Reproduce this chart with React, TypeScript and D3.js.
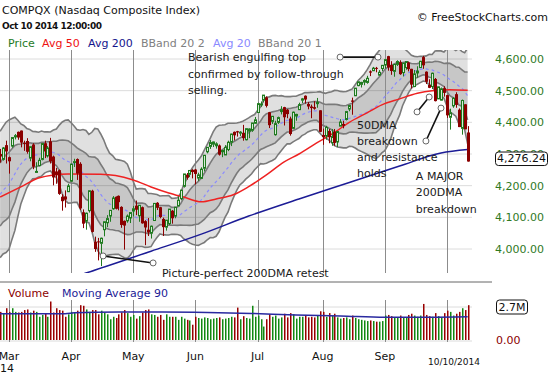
import React from 'react';
import * as d3 from 'd3';

// ---------- DATA ----------
const dates = [
  '02-26','02-27','02-28',
  '03-03','03-04','03-05','03-06','03-07','03-10','03-11','03-12','03-13','03-14','03-17','03-18','03-19','03-20','03-21','03-24','03-25','03-26','03-27','03-28','03-31',
  '04-01','04-02','04-03','04-04','04-07','04-08','04-09','04-10','04-11','04-14','04-15','04-16','04-17','04-21','04-22','04-23','04-24','04-25','04-28','04-29','04-30',
  '05-01','05-02','05-05','05-06','05-07','05-08','05-09','05-12','05-13','05-14','05-15','05-16','05-19','05-20','05-21','05-22','05-23','05-27','05-28','05-29','05-30',
  '06-02','06-03','06-04','06-05','06-06','06-09','06-10','06-11','06-12','06-13','06-16','06-17','06-18','06-19','06-20','06-23','06-24','06-25','06-26','06-27','06-30',
  '07-01','07-02','07-03','07-07','07-08','07-09','07-10','07-11','07-14','07-15','07-16','07-17','07-18','07-21','07-22','07-23','07-24','07-25','07-28','07-29','07-30','07-31',
  '08-01','08-04','08-05','08-06','08-07','08-08','08-11','08-12','08-13','08-14','08-15','08-18','08-19','08-20','08-21','08-22','08-25','08-26','08-27','08-28','08-29',
  '09-02','09-03','09-04','09-05','09-08','09-09','09-10','09-11','09-12','09-15','09-16','09-17','09-18','09-19','09-22','09-23','09-24','09-25','09-26','09-29','09-30',
  '10-01','10-02','10-03','10-06','10-07','10-08','10-09','10-10',
];

const opens = [
  4300,4283,4328,
  4290,4325,4354,4370,4374,4335,4341,4287,4330,4244,4263,4283,4334,4294,4340,4292,4245,4249,4165,4166,4181,
  4214,4275,4284,4269,4116,4088,4121,4184,4023,4024,4018,4061,4083,4104,4127,4165,4168,4133,4089,4089,4098,
  4120,4137,4105,4132,4088,4061,4050,4090,4146,4132,4095,4069,4080,4121,4104,4136,4159,4198,4235,4236,4250,
  4251,4224,4223,4255,4307,4324,4331,4326,4327,4307,4297,4314,4337,4370,4372,4369,4367,4345,4372,4375,4397,
  4431,4456,4470,4479,4432,4403,4361,4400,4434,4448,4440,4412,4381,4420,4440,4470,4484,4458,4450,4448,4459,4438,
  4360,4357,4373,4336,4370,4338,4388,4395,4409,4442,4469,4484,4516,4520,4527,4526,4561,4563,4572,4549,4570,
  4581,4609,4581,4561,4583,4590,4557,4573,4589,4569,4513,4556,4573,4606,4560,4518,4513,4537,4474,4470,4508,
  4486,4416,4452,4489,4440,4381,4457,4368,
];
const highs = [
  4316,4322,4342,
  4292,4352,4363,4371,4374,4342,4350,4324,4334,4274,4288,4333,4342,4325,4351,4295,4256,4251,4173,4185,4206,
  4269,4285,4286,4274,4125,4115,4183,4187,4039,4035,4036,4087,4107,4121,4167,4166,4169,4135,4090,4109,4115,
  4136,4153,4139,4134,4091,4098,4074,4144,4148,4133,4099,4091,4126,4123,4132,4166,4186,4237,4240,4249,4252,
  4253,4241,4258,4297,4321,4344,4339,4337,4330,4313,4328,4342,4364,4371,4373,4372,4392,4381,4381,4398,4417,
  4462,4466,4486,4482,4433,4419,4405,4418,4451,4449,4442,4418,4434,4427,4462,4477,4485,4464,4456,4467,4477,4438,
  4380,4389,4379,4379,4379,4371,4410,4405,4436,4454,4478,4508,4528,4528,4536,4547,4564,4575,4575,4565,4580,
  4599,4610,4593,4583,4596,4596,4587,4592,4592,4569,4565,4577,4594,4610,4561,4536,4557,4540,4513,4510,4514,
  4487,4443,4479,4495,4444,4472,4457,4388,
];
const lows = [
  4273,4279,4270,
  4238,4320,4346,4345,4321,4310,4301,4277,4252,4243,4261,4280,4287,4289,4270,4201,4206,4171,4121,4131,4180,
  4212,4259,4218,4123,4066,4061,4115,4052,3991,3964,3946,4040,4069,4086,4124,4125,4122,4067,3998,4083,4082,
  4103,4107,4086,4080,4012,4041,4033,4089,4123,4097,4041,4058,4076,4080,4097,4136,4154,4194,4219,4227,4223,
  4204,4215,4221,4245,4302,4316,4322,4317,4295,4290,4297,4309,4325,4343,4355,4357,4342,4343,4350,4370,4395,
  4431,4449,4463,4447,4382,4395,4358,4395,4425,4390,4413,4358,4380,4405,4440,4461,4459,4441,4413,4440,4446,4369,
  4329,4345,4334,4326,4326,4322,4388,4381,4406,4435,4424,4483,4514,4510,4517,4522,4546,4562,4558,4547,4562,
  4570,4563,4550,4544,4578,4550,4545,4566,4561,4507,4511,4541,4572,4569,4521,4508,4505,4466,4474,4469,4481,
  4414,4377,4446,4446,4385,4361,4378,4276,
];
const closes = [
  4292,4319,4308,
  4277,4352,4358,4352,4336,4334,4307,4323,4260,4245,4280,4333,4308,4319,4277,4226,4234,4174,4151,4156,4199,
  4268,4276,4238,4128,4080,4113,4184,4054,4000,4023,4034,4086,4096,4122,4161,4127,4148,4076,4074,4104,4115,
  4127,4124,4138,4081,4068,4052,4072,4144,4130,4101,4069,4091,4126,4097,4132,4154,4186,4237,4225,4248,4243,
  4237,4234,4252,4296,4321,4336,4338,4332,4298,4311,4321,4337,4363,4359,4368,4369,4350,4380,4379,4398,4408,
  4459,4458,4486,4452,4391,4419,4396,4415,4440,4416,4426,4363,4432,4425,4456,4474,4472,4450,4445,4443,4463,4370,
  4353,4384,4353,4355,4335,4371,4401,4389,4434,4453,4465,4508,4528,4526,4532,4539,4557,4571,4570,4558,4580,
  4598,4573,4562,4583,4592,4552,4587,4592,4568,4519,4553,4562,4593,4580,4528,4509,4555,4467,4512,4506,4493,
  4422,4430,4476,4455,4385,4469,4378,4276.24,
];
// closes of the 19 sessions before the first candle (for the 20-day bands)
const priorCloses = [4051,4123,4104,3997,4032,4012,4057,4126,4148,4191,4201,4241,4244,4273,4238,4268,4263,4292,4288];

// volume (millions, as labelled on the chart)
const volumes = [
  2.3,2.2,2.6,
  2.3,2.6,2.3,2.25,2.3,2.45,2.5,2.25,2.4,2.3,1.9,2.05,2.2,1.9,3.15,2.25,2.6,2.45,2.4,1.9,2.1,
  2.3,2.25,2.4,2.85,2.8,2.5,2.3,2.45,2.45,2.1,2.4,2.25,2.1,1.7,1.9,1.8,2.1,2.25,2.45,2.2,1.9,
  2.05,1.75,1.95,2.25,2.45,2.5,2.1,2.05,1.9,2.05,1.65,2.1,1.9,1.9,1.9,1.65,1.9,1.75,1.65,1.6,1.25,
  1.9,1.8,1.75,1.85,1.8,1.7,1.75,1.8,1.85,1.7,1.75,1.8,1.9,1.85,2.65,1.7,1.95,1.8,1.75,2.8,1.9,
  2.0,1.7,1.1,1.7,2.1,1.9,2.0,1.75,1.85,2.15,1.85,2.2,2.1,1.75,1.9,1.9,2.05,1.85,1.9,1.85,2.0,2.35,
  2.3,1.9,2.2,2.0,2.15,1.85,1.75,1.8,1.85,1.7,2.0,1.8,1.7,1.65,1.6,1.55,1.6,1.55,1.5,1.5,1.55,
  2.0,2.05,1.95,1.8,1.85,2.0,1.8,1.85,2.05,2.15,2.0,1.9,2.0,2.95,2.05,1.95,1.9,2.2,1.95,1.85,2.2,
  2.4,2.3,2.0,2.15,2.3,2.6,2.45,2.85,
];

// moving averages (session index -> value)
const avg50Idx = [0, 7, 13, 18, 23, 34, 39, 45, 51, 57, 62, 68, 73, 79, 84, 90, 96, 101, 107, 113, 118, 124, 129, 135, 141, 146, 152, 158];
const avg50Val = [4164, 4196, 4224, 4234, 4237, 4236, 4232, 4218, 4196, 4177, 4164, 4149, 4158, 4172, 4197, 4234, 4275, 4300, 4335, 4368, 4400, 4430, 4455, 4474, 4492, 4500, 4503, 4501];
const avg200Idx = [25, 29, 51, 68, 84, 101, 118, 135, 149, 158];
const avg200Val = [3912, 3924, 3993, 4047, 4104, 4158, 4210, 4262, 4303, 4314];
const volAvgIdx = [0, 22, 25, 40, 55, 70, 85, 100, 115, 130, 145, 158];
const volAvgVal = [2.15, 2.15, 2.22, 2.3, 2.3, 2.26, 2.17, 2.05, 1.97, 1.86, 1.86, 1.9];

const priceTicks = [4000, 4100, 4200, 4300, 4400, 4500, 4600];
const volTickTop = 2.7;
const title = 'COMPQX (Nasdaq Composite Index)';
const stamp = 'Oct 10 2014 12:00:00';
const legendItems = ['Price', 'Avg 50', 'Avg 200', 'BBand 20 2', 'Avg 20', 'BBand 20 1'];
const lastDateLabel = '10/10/2014';
const yearLabel = '14';

const FONT = '"DejaVu Sans", Verdana, sans-serif';
const UP = '#1f7a1f';
const DOWN = '#8b0000';

export default function App() {
  const n = closes.length;
  const x = d3.scaleLinear().domain([0, n - 1]).range([0.12, 0.12 + 2.959 * (n - 1)]);
  const y = d3.scaleLinear().domain([4000, 4600]).range([249, 59]);
  const vy = d3.scaleLinear().domain([0, volTickTop]).range([340, 307]);
  const plot = { l: 0, r: 472, t: 50, b: 273 };

  const all = priorCloses.concat(closes);
  const bands = closes.map((_, i) => {
    const w = all.slice(i, i + 20);
    const m = d3.mean(w) as number;
    const sd = Math.sqrt(d3.mean(w, (v) => (v - m) * (v - m)) as number);
    return { i, m, sd };
  });
  type B = { i: number; m: number; sd: number };
  const area = (k: number) =>
    d3.area<B>().x((d) => x(d.i)).y0((d) => y(d.m - k * d.sd)).y1((d) => y(d.m + k * d.sd))(bands) as string;
  const edge = (k: number) => d3.line<B>().x((d) => x(d.i)).y((d) => y(d.m + k * d.sd))(bands) as string;
  const mid = d3.line<B>().x((d) => x(d.i)).y((d) => y(d.m))(bands) as string;
  const ln = (idx: number[], val: number[], ys: (v: number) => number) =>
    d3.line<number>().x((d) => x(d)).y((_, j) => ys(val[j])).curve(d3.curveMonotoneX)(idx) as string;

  // month starts
  const parse = d3.timeParse('%Y-%m-%d');
  const fmtMon = d3.timeFormat('%b');
  const monthStarts: { i: number; label: string }[] = [];
  dates.forEach((d, i) => {
    if (i > 0 && d.slice(0, 2) !== dates[i - 1].slice(0, 2)) {
      monthStarts.push({ i, label: fmtMon(parse('2014-' + d) as Date) });
    }
  });
  // the final (current) month shows the last date instead of a month name
  const monthTextStarts = monthStarts.slice(0, -1);

  const fmtP = d3.format(',.2f');
  const last = closes[n - 1];

  const legendX = [8, 42, 88, 141, 213, 258];
  const legendCol = ['#1f7a1f', '#ee1111', '#14148c', '#808080', '#8a8aff', '#808080'];

  // annotation anchors in data space
  const ann = [
    { a: [114.9, 4606], b: [127.7, 4606] },
    { a: [140.9, 4433], b: [145, 4480] },
    { a: [143.9, 4341], b: [149, 4445] },
    { a: [34.8, 3978], b: [51.7, 3956] },
  ];

  const textBlock = (lines: string[], xi: number, py: number, dy: number) =>
    lines.map((t, k) => (
      <text key={t} x={x(xi)} y={y(py) + 4 + k * dy} fontSize={11} fill="#1a1a1a">{t}</text>
    ));

  return (
    <svg width={550} height={375} style={{ position: 'absolute', left: 0, top: 0 }} fontFamily={FONT}>
      <defs>
        <clipPath id="pc"><rect x={plot.l} y={plot.t} width={plot.r - plot.l} height={plot.b - plot.t} /></clipPath>
        <clipPath id="p300"><rect x={490} y={0} width={60} height={y(last) - 9.5} /></clipPath>
      </defs>
      <rect width={550} height={375} fill="#fff" />

      {/* header */}
      <text x={2} y={14} fontSize={11} fill="#111">{title}</text>
      <text x={2} y={28.5} fontSize={9} fontWeight="bold" fill="#111" textLength={100}>{stamp}</text>
      <text x={548} y={21} fontSize={11} fill="#111" textAnchor="end">© FreeStockCharts.com</text>
      {legendItems.map((t, k) => (
        <text key={t} x={legendX[k]} y={47} fontSize={11} fill={legendCol[k]}>{t}</text>
      ))}

      {/* price panel grid */}
      {priceTicks.map((t) => (
        <line key={t} x1={plot.l} x2={plot.r} y1={y(t)} y2={y(t)} stroke="#dcdcdc" />
      ))}
      <g clipPath="url(#pc)">
        <path d={area(2)} fill="rgba(0,0,0,0.12)" />
        <path d={area(1)} fill="rgba(0,0,0,0.11)" />
      </g>
      {monthStarts.map((m) => (
        <line key={m.label} x1={Math.round(x(m.i)) + 0.5} x2={Math.round(x(m.i)) + 0.5} y1={plot.t} y2={plot.b} stroke="#8c8c8c" />
      ))}
      <g clipPath="url(#pc)" fill="none">
        {[2, 1, -1, -2].map((k) => (
          <path key={k} d={edge(k)} stroke="#7a7a7a" strokeWidth={1.6} />
        ))}
        <path d={mid} stroke="#8a8aff" strokeWidth={1.2} strokeDasharray="3,3" />
        <path d={ln(avg50Idx, avg50Val, y)} stroke="#ee2222" strokeWidth={1.5} />
        <path d={ln(avg200Idx, avg200Val, y)} stroke="#1c1c96" strokeWidth={1.5} />
      </g>

      {/* candles */}
      <g clipPath="url(#pc)">
        {closes.map((c, i) => {
          const o = opens[i];
          const up = c >= o;
          const cx = Math.round(x(i)) + 0.5;
          const top = y(Math.max(o, c));
          const bot = y(Math.min(o, c));
          const h = Math.max(1, bot - top);
          if (up) {
            return (
              <g key={i} stroke={UP}>
                <line x1={cx} x2={cx} y1={y(highs[i])} y2={top} />
                <line x1={cx} x2={cx} y1={top + h} y2={y(lows[i])} />
                <rect x={cx - 1} y={top} width={2} height={h} fill="#d8ecd8" strokeWidth={1} />
              </g>
            );
          }
          return (
            <g key={i}>
              <line x1={cx} x2={cx} y1={y(highs[i])} y2={y(lows[i])} stroke={DOWN} />
              <rect x={cx - 1.5} y={top} width={3} height={h} fill={DOWN} />
            </g>
          );
        })}
      </g>

      {/* annotations */}
      {ann.map((a, k) => (
        <g key={k}>
          <line x1={x(a.a[0])} y1={y(a.a[1])} x2={x(a.b[0])} y2={y(a.b[1])} stroke="#111" strokeWidth={1.6} />
          <circle cx={x(a.a[0])} cy={y(a.a[1])} r={3} fill="#fff" stroke="#666" />
          <circle cx={x(a.b[0])} cy={y(a.b[1])} r={3} fill="#fff" stroke="#666" />
        </g>
      ))}
      {textBlock(['Bearish engulfing top', 'confirmed by follow-through', 'selling.'], 63.5, 4606, 16.5)}
      {textBlock(['50DMA', 'breakdown', 'and resistance', 'holds'], 120.6, 4393, 16)}
      {textBlock(['A MAJOR', '200DMA', 'breakdown'], 140.5, 4232, 16.5)}
      {textBlock(['Picture-perfect 200DMA retest'], 54.7, 3925, 0)}

      {/* price axis */}
      {priceTicks.map((t) => (
        <text key={t} x={495} y={y(t) + 4} fontSize={11} fill="#2f7a1f" clipPath={t === 4300 ? 'url(#p300)' : undefined}>{fmtP(t)}</text>
      ))}
      <rect x={495.5} y={y(last) - 9.5} width={52} height={13.5} rx={3} fill="#fff" stroke="#111" />
      <text x={521.5} y={y(last) + 0.8} fontSize={11} fill="#111" textAnchor="middle">{fmtP(last)}</text>

      {/* divider */}
      <line x1={0} x2={492} y1={282} y2={282} stroke="#666" />

      {/* volume panel */}
      <text x={8} y={297} fontSize={11} fill={DOWN}>Volume</text>
      <text x={62} y={297} fontSize={11} fill="#1c1c96">Moving Average 90</text>
      <line x1={0} x2={472} y1={vy(volTickTop)} y2={vy(volTickTop)} stroke="#dcdcdc" />
      <line x1={0} x2={472} y1={vy(0) + 1} y2={vy(0) + 1} stroke="#dcdcdc" />
      {monthStarts.map((m) => (
        <line key={m.label} x1={Math.round(x(m.i)) + 0.5} x2={Math.round(x(m.i)) + 0.5} y1={300} y2={342} stroke="#8c8c8c" />
      ))}
      {volumes.map((v, i) => (
        <rect key={i} x={Math.round(x(i))} y={vy(v)} width={1.5} height={vy(0) - vy(v)} fill={closes[i] >= opens[i] ? '#118811' : '#990000'} />
      ))}
      <path d={ln(volAvgIdx, volAvgVal, vy)} fill="none" stroke="#2a2aa0" strokeWidth={1.5} />
      <rect x={496.5} y={vy(volTickTop) - 7} width={31} height={14} rx={3} fill="#fff" stroke="#111" />
      <text x={512} y={vy(volTickTop) + 4} fontSize={11} fill="#111" textAnchor="middle">{volTickTop}M</text>
      <text x={496} y={vy(0) + 4} fontSize={11} fill={DOWN}>0.00</text>

      {/* time axis */}
      {monthTextStarts.map((m) => (
        <text key={m.label} x={x(m.i)} y={360} fontSize={11} fill="#111" textAnchor="middle">{m.label}</text>
      ))}
      <text x={0} y={372} fontSize={11} fill="#111">{yearLabel}</text>
      <text x={454} y={365} fontSize={9} fill="#111" textAnchor="middle">{lastDateLabel}</text>
    </svg>
  );
}
